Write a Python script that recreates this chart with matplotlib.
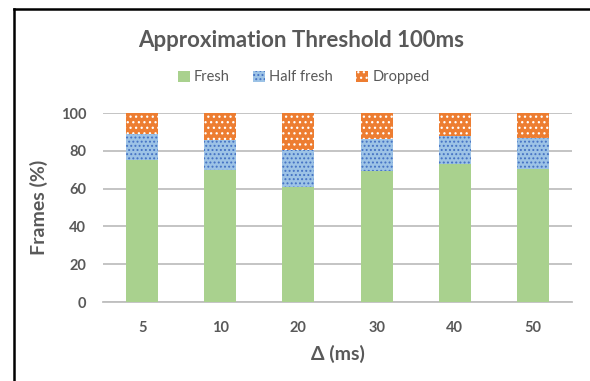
import matplotlib.pyplot as plt
from matplotlib.lines import Line2D

# Frame share per delta setting (percent)
deltas = ['5', '10', '20', '30', '40', '50']
fresh = [75, 70, 61, 69.5, 73, 70.5]
half_fresh = [14, 15.5, 19.5, 16.5, 15, 16.5]
dropped = [11, 14.5, 19.5, 14, 12, 13]

GRAY = '#595959'


def main():
    plt.rcParams['font.family'] = ['Lato', 'DejaVu Sans']
    plt.rcParams['hatch.linewidth'] = 0.9

    fig = plt.figure(figsize=(5.9, 3.81), dpi=100)
    ax = fig.add_axes([0.1746, 0.2073, 0.7949, 0.4961])

    x = range(len(deltas))
    w = 0.41
    bottom2 = [f + h for f, h in zip(fresh, half_fresh)]

    ax.bar(x, fresh, w, color='#a9d18e', linewidth=0, label='Fresh', zorder=3)
    ax.bar(x, half_fresh, w, bottom=fresh, facecolor='#9dc3e6',
           edgecolor='#4472c4', hatch='....', linewidth=0, label='Half fresh', zorder=3)
    ax.bar(x, dropped, w, bottom=bottom2, facecolor='#ed7d31',
           edgecolor='white', hatch='...', linewidth=0, label='Dropped', zorder=3)

    ax.set_xlim(-0.5, len(deltas) - 0.5)
    ax.set_ylim(0, 100)
    ax.set_yticks(range(0, 101, 20))
    ax.set_xticks(list(x))
    ax.set_xticklabels(deltas)

    ax.grid(axis='y', color='#bfbfbf', linewidth=1.3, zorder=0)
    for s in ['top', 'right', 'left']:
        ax.spines[s].set_visible(False)
    ax.spines['bottom'].set_color('#bfbfbf')
    ax.spines['bottom'].set_linewidth(1.3)
    ax.tick_params(length=0, labelsize=10.5, labelcolor=GRAY, pad=14)
    ax.tick_params(axis='y', pad=12)
    for lbl in ax.get_xticklabels() + ax.get_yticklabels():
        lbl.set_fontweight('bold')

    ax.set_ylabel('Frames (%)', fontsize=14, fontweight='bold', color=GRAY, labelpad=9)
    ax.set_xlabel('Δ (ms)', fontsize=14, fontweight='bold', color=GRAY, labelpad=7)

    fig.text(0.51, 0.895, 'Approximation Threshold 100ms', ha='center', va='center',
             fontsize=16, fontweight='bold', color=GRAY)

    leg = fig.legend(loc='center', bbox_to_anchor=(0.515, 0.797), ncol=3, frameon=False,
                     fontsize=10.5, handlelength=0.8, handleheight=0.8, handletextpad=0.3,
                     columnspacing=1.6)
    for t in leg.get_texts():
        t.set_color(GRAY)

    # Outer frame: top and left edges only
    fig.add_artist(Line2D([0.023, 1.0], [0.977, 0.977], color='black', linewidth=1.8))
    fig.add_artist(Line2D([0.023, 0.023], [0.0, 0.977], color='black', linewidth=1.8))

    fig.savefig('out.png', dpi=100)


if __name__ == '__main__':
    main()
